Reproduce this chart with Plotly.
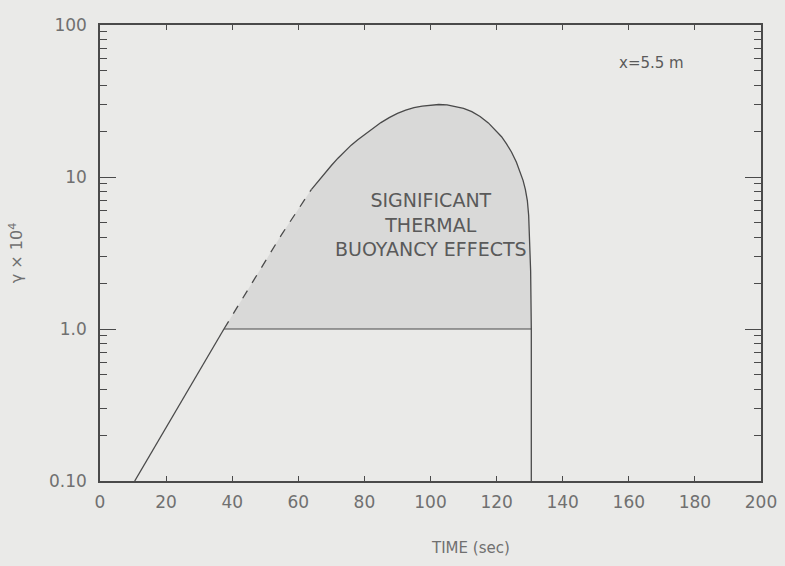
import plotly.graph_objects as go

# Data
rise_t = [10.5, 37.5]
rise_y = [0.1, 1.0]
dash_t = [37.5, 45, 55, 64]
dash_y = [1.0, 1.85, 4.2, 8.3]
curve_t = [64, 66, 68, 70, 72, 74, 76, 78, 80, 82.5, 85, 87.5, 90, 92.5, 95, 97.5, 100, 102.5, 105, 107.5,
           110, 112.5, 115, 117.5, 120, 121.5, 123, 124.5, 126, 127, 128, 128.7, 129.3, 129.7, 130.0, 130.3, 130.5]
curve_y = [8.3, 9.4, 10.6, 11.9, 13.3, 14.7, 16.2, 17.6, 19.0, 20.9, 22.8, 24.6, 26.2, 27.5, 28.6, 29.3, 29.8, 30.0, 29.8, 29.2,
           28.3, 26.9, 25.0, 22.7, 20.0, 18.4, 16.5, 14.6, 12.5, 11.0, 9.5, 8.3, 7.0, 5.6, 4.0, 2.4, 1.0]
base_t = [37.5, 130.5]
base_y = [1.0, 1.0]
drop_t = [130.5, 130.5]
drop_y = [1.0, 0.1]

ytick_vals = [0.1, 1, 10, 100]
ytick_text = ["0.10", "1.0", "10", "100"]
xtick_vals = [0, 20, 40, 60, 80, 100, 120, 140, 160, 180, 200]
xtick_text = [str(v) for v in xtick_vals]
minor_y = [m * 10 ** e for e in (-1, 0, 1) for m in range(2, 10)]

LINE = "#4a4a4a"
TXT = "#707070"
FONT = "DejaVu Sans"

fig = go.Figure()

# shaded region
fig.add_trace(go.Scatter(
    x=dash_t + curve_t[1:] + base_t[::-1],
    y=dash_y + curve_y[1:] + base_y[::-1],
    mode="lines", fill="toself", fillcolor="rgba(200,200,200,0.5)",
    line=dict(width=0), hoverinfo="skip", showlegend=False))

fig.add_trace(go.Scatter(x=rise_t, y=rise_y, mode="lines",
                         line=dict(color=LINE, width=1.3), showlegend=False))
fig.add_trace(go.Scatter(x=dash_t, y=dash_y, mode="lines",
                         line=dict(color=LINE, width=1.3, dash="dash"), showlegend=False))
fig.add_trace(go.Scatter(x=curve_t, y=curve_y, mode="lines",
                         line=dict(color=LINE, width=1.3), showlegend=False))
fig.add_trace(go.Scatter(x=base_t, y=base_y, mode="lines",
                         line=dict(color=LINE, width=1.2), showlegend=False))
fig.add_trace(go.Scatter(x=drop_t, y=drop_y, mode="lines",
                         line=dict(color=LINE, width=1.3), showlegend=False))

fig.add_annotation(x=100, y=0.69, xref="x", yref="y", yanchor="middle",
                   text="SIGNIFICANT<br>THERMAL<br>BUOYANCY EFFECTS",
                   showarrow=False, align="center",
                   font=dict(family=FONT, size=19, color="#5a5a5a"))
fig.add_annotation(x=167, y=1.75, xref="x", yref="y",
                   text="x=5.5 m", showarrow=False,
                   font=dict(family=FONT, size=15, color="#5a5a5a"))
fig.add_annotation(x=112, xref="x", y=-0.147, yref="paper", yanchor="middle",
                   showarrow=False, text="TIME (sec)",
                   font=dict(family=FONT, size=15, color=TXT))

fig.update_layout(
    width=785, height=566,
    margin=dict(l=100, r=24, t=25, b=85),
    paper_bgcolor="#eaeae8", plot_bgcolor="#eaeae8",
    font=dict(family=FONT, color=TXT, size=16),
    xaxis=dict(range=[0, 200], tickvals=xtick_vals, ticktext=xtick_text, automargin=False,
               ticks="inside", ticklen=5, tickcolor=LINE, showgrid=False,
               zeroline=False, showline=True, linecolor=LINE, linewidth=1.5,
               mirror="ticks", tickfont=dict(size=17, color=TXT), ticklabelstandoff=5),
    yaxis=dict(type="log", range=[-1, 2], tickvals=ytick_vals, ticktext=ytick_text, automargin=False,
               ticks="inside", ticklen=16, tickcolor=LINE, showgrid=False,
               zeroline=False, showline=True, linecolor=LINE, linewidth=1.5,
               mirror="ticks", tickfont=dict(size=17, color=TXT), ticklabelstandoff=8,
               minor=dict(tickvals=minor_y, ticks="inside", ticklen=7, tickcolor=LINE, showgrid=False),
               title=dict(text="γ × 10<sup>4</sup>", font=dict(size=16, color=TXT), standoff=22)),
)

fig.write_html("out.html")
